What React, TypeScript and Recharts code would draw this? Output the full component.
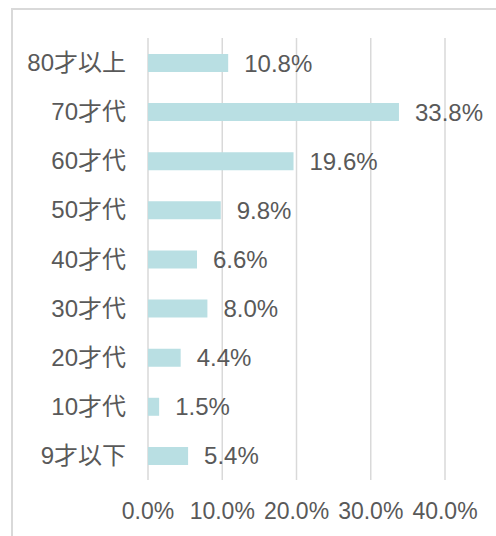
import React from 'react';
import { BarChart, Bar, XAxis, YAxis, CartesianGrid, LabelList } from "recharts";

const ageGroups = ["80才以上", "70才代", "60才代", "50才代", "40才代", "30才代", "20才代", "10才代", "9才以下"];
const shares = [10.8, 33.8, 19.6, 9.8, 6.6, 8.0, 4.4, 1.5, 5.4];
const xTicks = [0, 10, 20, 30, 40];

const data = ageGroups.map((name, i) => ({ name, value: shares[i] }));

const font = "'Liberation Sans', Arial, 'Noto Sans CJK JP', sans-serif";
const textColor = "#595959";

const App = () => (
	<div style={{ position: "absolute", left: 0, top: 0, width: 496, height: 536, overflow: "hidden", background: "#fff" }}>
		<div style={{ position: "absolute", left: 11, top: 8, width: 520, height: 560, border: "2px solid #d9d9d9" }} />
		<div style={{ position: "absolute", left: 0, top: 0 }}>
			<BarChart
				width={496}
				height={536}
				data={data}
				layout="vertical"
				margin={{ top: 38, right: 51, left: 0, bottom: 0 }}
				style={{ fontFamily: font }}
			>
				<CartesianGrid horizontal={false} stroke="#d9d9d9" strokeWidth={1.5} />
				<XAxis
					type="number"
					domain={[0, 40]}
					ticks={xTicks}
					height={56}
					axisLine={false}
					tickLine={false}
					tickSize={0}
					tickMargin={23}
					interval={0}
					tickFormatter={(v: number) => v.toFixed(1) + "%"}
					tick={{ fill: textColor, fontSize: 23, fontFamily: font }}
				/>
				<YAxis
					type="category"
					dataKey="name"
					width={148}
					axisLine={false}
					tickLine={false}
					tickSize={0}
					tickMargin={22}
					interval={0}
					tick={{ fill: textColor, fontSize: 24, fontFamily: font }}
				/>
				<Bar dataKey="value" fill="#b9dfe3" barSize={18} isAnimationActive={false}>
					<LabelList
						dataKey="value"
						position="right"
						offset={16}
						formatter={(v: any) => Number(v).toFixed(1) + "%"}
						style={{ fill: textColor, fontSize: 24, fontFamily: font }}
					/>
				</Bar>
			</BarChart>
		</div>
	</div>
);

export default App;
